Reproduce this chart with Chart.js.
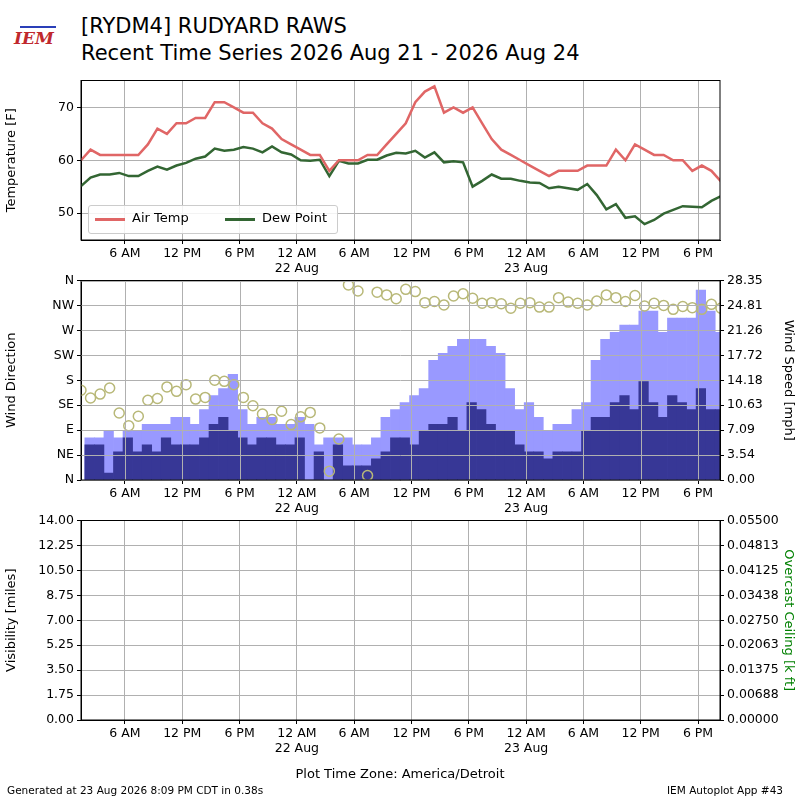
<!DOCTYPE html>
<html><head><meta charset="utf-8">
<script src="https://cdn.jsdelivr.net/npm/chart.js@4"></script>
<style>
body{margin:0;width:800px;height:800px;background:#fff;position:relative;overflow:hidden;font-family:"DejaVu Sans",sans-serif;}
canvas{position:absolute;left:0;}
.t{position:absolute;color:#000;white-space:nowrap;}
</style></head><body>
<div class="t" style="left:81px;top:14px;font-size:21px;">[RYDM4] RUDYARD RAWS</div>
<div class="t" style="left:81px;top:41px;font-size:21px;">Recent Time Series 2026 Aug 21 - 2026 Aug 24</div>
<div class="t" style="left:14px;top:28px;font-size:17px;color:#c0282d;font-style:italic;font-family:'DejaVu Serif',serif;font-weight:bold;">IEM</div>
<div class="t" style="left:20px;top:8px;width:36px;height:18px;border-bottom:2px solid #2a3fb8;"></div>
<div style="position:absolute;left:0;top:70px;width:800px;height:215px"><canvas id="c1" width="800" height="215"></canvas></div>
<div style="position:absolute;left:0;top:270px;width:800px;height:255px"><canvas id="c2" width="800" height="255"></canvas></div>
<div style="position:absolute;left:0;top:510px;width:800px;height:255px"><canvas id="c3" width="800" height="255"></canvas></div>
<div class="t" style="left:88px;top:205px;width:248px;height:27px;border:1px solid #ccc;border-radius:3px;background:rgba(255,255,255,0.85);font-size:13px;">
 <span style="position:absolute;left:6px;top:12px;width:30px;border-top:3px solid #e06666"></span>
 <span style="position:absolute;left:43px;top:4px;">Air Temp</span>
 <span style="position:absolute;left:136px;top:12px;width:30px;border-top:3px solid #336633"></span>
 <span style="position:absolute;left:173px;top:4px;">Dew Point</span>
</div>
<div class="t" style="left:0;width:800px;text-align:center;top:766px;font-size:13px;">Plot Time Zone: America/Detroit</div>
<div class="t" style="left:7px;top:784px;font-size:10.5px;">Generated at 23 Aug 2026 8:09 PM CDT in 0.38s</div>
<div class="t" style="right:17px;top:784px;font-size:10.5px;">IEM Autoplot App #43</div>
<script>
// hours since 2026-08-21 00:00 local
const startHour = 1.4;
const xMin = 1.4, xMax = 68.3;
const airTemp = [60,62,61,61,61,61,61,63,66,65,67,67,68,68,71,71,70,69,69,67,66,64,63,62,61,61,58,60,60,60,61,61,63,65,67,71,73,74,69,70,69,70,67,64,62,61,60,59,58,57,58,58,58,59,59,59,62,60,63,62,61,61,60,60,58,59,58,56];
const dewPoint = [55.1,56.7,57.3,57.3,57.6,57,57,58,58.8,58.2,59,59.5,60.3,60.7,62.2,61.8,62,62.5,62.2,61.5,62.6,61.5,61.1,60,59.9,60.1,57,59.9,59.4,59.4,60.1,60.1,60.9,61.4,61.3,61.8,60.5,61.5,59.6,59.8,59.6,55,56.1,57.3,56.5,56.5,56.1,55.8,55.7,54.7,55,54.7,54.4,55.5,53.4,50.7,51.7,49.1,49.4,47.9,48.7,49.9,50.6,51.3,51.2,51.1,52.3,53.2];
const windDir = [162,148,155,166,121,98,115,144,147,168,160,172,146,149,180,178,172,149,134,119,109,124,100,114,122,94,16,74,352,341,8,339,334,327,344,340,320,322,316,332,336,328,319,320,318,310,319,320,312,312,329,321,319,316,323,334,329,322,333,314,319,315,308,313,311,308,317,310];
const windSpeed = [5,5,1,4,6,4,5,4,6,5,5,5,6,7.9,8.9,6.9,6,5,6,6,5,5,6,0,4,0,5,2,2,2,3,4,6,6,5,6.9,7.9,7.9,8.9,6.9,11,10,7.9,6.9,6.9,5,4,4,3,4,4,4,6.9,8.9,8.9,11,12,10,14,11,8.9,12,11,10,13,10,10];
const windGust = [6,6,6.9,6,6.9,6.9,7.9,7.9,7.9,8.9,8.9,7.9,10,12,13,15,10,7.9,8.9,8.9,7.9,7.9,8.9,7.9,5,6,6,6,5,5,6,8.9,10,11,12,13,17,18,19,20,20,20,19,18,13,10,11,8.9,6.9,7.9,7.9,10,11,17,20,21,22,22,24,24,21,23,23,23,27,24,21];
const barOffset = 0.9;
const dirLabels = ['N','NE','E','SE','S','SW','W','NW','N'];
const spdMax = 28.35, visMax = 14, ceilMax = 0.055;

const pts = a => a.map((v,i)=>({x:startHour+i, y:v}));
const bars = a => a.map((v,i)=>({x:startHour+barOffset+i, y:v}));
const font = {family:'DejaVu Sans', size:12.5};
const grid = '#b0b0b0';
function hourLabel(v){
  const h = ((v%24)+24)%24, d = Math.floor(v/24);
  let s = h===0?'12 AM':h===12?'12 PM':(h<12? h+' AM' : (h-12)+' PM');
  if(h===0) return [s, (21+d)+' Aug'];
  return s;
}
const frame = {id:'frame', afterDraw(c){const a=c.chartArea,x=c.ctx;x.save();x.strokeStyle='#000';x.lineWidth=1;x.strokeRect(a.left,a.top,a.right-a.left,a.bottom-a.top);x.restore();}};
// grid drawn above bars
const overGrid = {id:'overGrid', afterDatasetsDraw(c){
  const a=c.chartArea,x=c.ctx;x.save();x.strokeStyle=grid;x.lineWidth=1;x.beginPath();
  c.scales.x.ticks.forEach(t=>{const p=Math.round(c.scales.x.getPixelForValue(t.value))+0.5;x.moveTo(p,a.top);x.lineTo(p,a.bottom);});
  c.scales.y.ticks.forEach(t=>{const p=Math.round(c.scales.y.getPixelForValue(t.value))+0.5;x.moveTo(a.left,p);x.lineTo(a.right,p);});
  x.stroke();x.restore();}};
function xAxis(onArea){
  return {type:'linear',min:xMin,max:xMax,offset:false,
    afterBuildTicks(s){const t=[];for(let h=6;h<=xMax;h+=6)t.push({value:h});s.ticks=t;},
    afterFit(s){s.height=45;},
    ticks:{color:'#000',font,callback:v=>hourLabel(v),maxRotation:0,autoSkip:false,padding:2},
    grid:{color:grid,tickColor:'#000',tickLength:4,offset:false,drawOnChartArea:onArea!==false},border:{color:'#000'}};
}
function leftFit(s){s.width=81;}
function rightFit(s){s.width=80;}
const common = {responsive:false,animation:false,plugins:{legend:{display:false},tooltip:{enabled:false}},layout:{padding:{top:10,left:0,right:0,bottom:0}}};

new Chart(document.getElementById('c1'),{type:'line',
 data:{datasets:[
  {data:pts(airTemp),borderColor:'#e06666',borderWidth:2.5,pointRadius:0,tension:0},
  {data:pts(dewPoint),borderColor:'#336633',borderWidth:2.5,pointRadius:0,tension:0}]},
 options:{...common,scales:{x:xAxis(),
  y:{min:44.9,max:75.1,afterFit:leftFit,afterBuildTicks(s){s.ticks=[50,60,70].map(v=>({value:v}));},
     ticks:{color:'#000',font},grid:{color:grid,tickColor:'#000',tickLength:4},border:{color:'#000'},
     title:{display:true,text:'Temperature [F]',color:'#000',font:{family:'DejaVu Sans',size:13}}},
  yr:{position:'right',afterFit:rightFit,display:true,ticks:{display:false},grid:{display:false},border:{display:false}}}},
 plugins:[frame]});

new Chart(document.getElementById('c2'),{type:'line',
 data:{datasets:[
  {type:'line',data:pts(windDir),yAxisID:'y',showLine:false,pointStyle:'circle',pointRadius:5,pointBorderWidth:1.5,pointBorderColor:'#b8b878',pointBackgroundColor:'rgba(0,0,0,0)',order:0},
  {type:'bar',data:bars(windSpeed),yAxisID:'yr',backgroundColor:'#373796',barPercentage:1,categoryPercentage:1,grouped:false,order:1},
  {type:'bar',data:bars(windGust),yAxisID:'yr',backgroundColor:'#9999ff',barPercentage:1,categoryPercentage:1,grouped:false,order:2}]},
 options:{...common,scales:{x:xAxis(false),
  y:{min:0,max:360,afterFit:leftFit,afterBuildTicks(s){s.ticks=dirLabels.map((l,i)=>({value:i*45}));},
     ticks:{color:'#000',font,callback:(v)=>dirLabels[Math.round(v/45)]},grid:{color:grid,tickColor:'#000',tickLength:4,drawOnChartArea:false},border:{color:'#000'},
     title:{display:true,text:'Wind Direction',color:'#000',font:{family:'DejaVu Sans',size:13}}},
  yr:{position:'right',min:0,max:spdMax,afterFit:rightFit,afterBuildTicks(s){const t=[];for(let i=0;i<=8;i++)t.push({value:spdMax*i/8});s.ticks=t;},
     ticks:{color:'#000',font,callback:v=>v.toFixed(2)},grid:{tickColor:'#000',tickLength:4,drawOnChartArea:false},border:{color:'#000'},
     title:{display:true,text:'Wind Speed [mph]',color:'#000',font:{family:'DejaVu Sans',size:13}}}}},
 plugins:[overGrid,frame]});

new Chart(document.getElementById('c3'),{type:'line',
 data:{datasets:[{data:[],yAxisID:'y'}]},
 options:{...common,scales:{x:xAxis(),
  y:{min:0,max:visMax,afterFit:leftFit,afterBuildTicks(s){const t=[];for(let i=0;i<=8;i++)t.push({value:visMax*i/8});s.ticks=t;},
     ticks:{color:'#000',font,callback:v=>v.toFixed(2)},grid:{color:grid,tickColor:'#000',tickLength:4},border:{color:'#000'},
     title:{display:true,text:'Visibility [miles]',color:'#000',font:{family:'DejaVu Sans',size:13}}},
  yr:{position:'right',min:0,max:ceilMax,afterFit:rightFit,afterBuildTicks(s){const t=[];for(let i=0;i<=8;i++)t.push({value:ceilMax*i/8});s.ticks=t;},
     ticks:{color:'#000',font,callback:v=>v.toFixed(5)},grid:{tickColor:'#000',tickLength:4,drawOnChartArea:false},border:{color:'#000'},
     title:{display:true,text:'Overcast Ceiling [k ft]',color:'#008000',font:{family:'DejaVu Sans',size:13}}}}},
 plugins:[frame]});
</script></body></html>
